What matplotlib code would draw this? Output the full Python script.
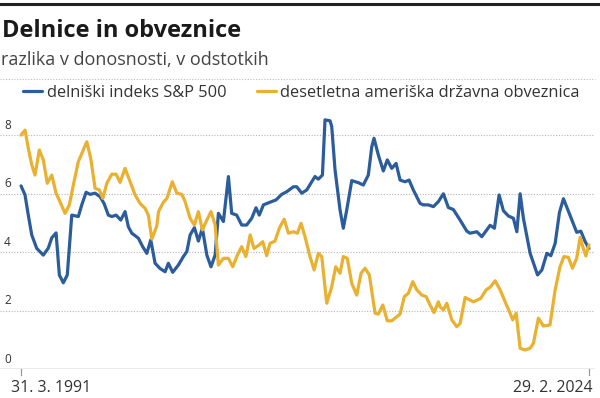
import matplotlib
matplotlib.use("Agg")
import matplotlib.pyplot as plt
from matplotlib.lines import Line2D

plt.rcParams['font.family'] = ['Open Sans', 'DejaVu Sans']

title = "Delnice in obveznice"
subtitle = "razlika v donosnosti, v odstotkih"
label_sp = "delniški indeks S&P 500"
label_bond = "desetletna ameriška državna obveznica"
x_tick_labels = ["31. 3. 1991", "29. 2. 2024"]
y_ticks = [0, 2, 4, 6, 8]

sp_years = [1991.25, 1991.48, 1991.67, 1991.87, 1992.16, 1992.54, 1992.83, 1993.03, 1993.28, 1993.47,
            1993.70, 1993.93, 1994.19, 1994.57, 1994.77, 1995.02, 1995.25, 1995.54, 1995.83, 1996.06,
            1996.31, 1996.51, 1996.76, 1997.03, 1997.28, 1997.47, 1997.67, 1998.05, 1998.30, 1998.54,
            1998.77, 1999.02, 1999.31, 1999.60, 1999.79, 2000.04, 2000.37, 2000.66, 2000.86, 2001.05,
            2001.30, 2001.53, 2001.76, 2002.02, 2002.26, 2002.50, 2002.69, 2002.98, 2003.27, 2003.46,
            2003.75, 2004.04, 2004.33, 2004.62, 2004.87, 2005.06, 2005.30, 2005.68, 2006.03, 2006.36,
            2006.65, 2007.04, 2007.23, 2007.52, 2007.81, 2008.10, 2008.29, 2008.48, 2008.72, 2008.87,
            2009.16, 2009.26, 2009.45, 2009.74, 2009.93, 2010.13, 2010.42, 2010.80, 2011.09, 2011.38,
            2011.58, 2011.71, 2011.96, 2012.25, 2012.48, 2012.74, 2012.99, 2013.22, 2013.51, 2013.74,
            2013.99, 2014.38, 2014.57, 2014.86, 2015.15, 2015.44, 2015.73, 2016.02, 2016.31, 2016.70,
            2017.09, 2017.28, 2017.67, 2017.96, 2018.44, 2018.69, 2018.96, 2019.21, 2019.50, 2019.79,
            2019.99, 2020.18, 2020.37, 2020.76, 2021.19, 2021.44, 2021.73, 2021.96, 2022.21, 2022.46,
            2022.69, 2022.98, 2023.46, 2023.70, 2023.95, 2024.17]
sp_values = [6.27, 5.96, 5.27, 4.59, 4.13, 3.90, 4.14, 4.49, 4.66, 3.22,
             2.95, 3.22, 5.27, 5.22, 5.62, 6.05, 5.98, 6.02, 5.90, 5.67,
             5.27, 5.22, 5.27, 5.10, 5.39, 4.87, 4.65, 4.48, 4.19, 3.96,
             4.42, 3.62, 3.44, 3.33, 3.62, 3.31, 3.56, 3.85, 4.02, 4.59,
             4.84, 4.38, 4.82, 3.90, 3.50, 3.90, 5.33, 5.05, 6.59, 5.33,
             5.27, 4.93, 4.93, 5.16, 5.52, 5.27, 5.62, 5.71, 5.79, 5.98,
             6.07, 6.24, 6.24, 6.02, 6.13, 6.41, 6.59, 6.50, 6.64, 8.53,
             8.50, 8.30, 6.82, 5.45, 4.82, 5.45, 6.45, 6.38, 6.30, 6.64,
             7.61, 7.90, 7.33, 6.78, 7.16, 6.87, 7.04, 6.47, 6.41, 6.47,
             6.13, 5.67, 5.62, 5.62, 5.56, 5.73, 6.00, 5.53, 5.46, 5.10,
             4.72, 4.65, 4.70, 4.53, 4.92, 4.82, 5.96, 5.42, 5.24, 5.16,
             4.70, 6.00, 5.16, 3.96, 3.22, 3.39, 3.96, 3.88, 4.30, 5.36,
             5.83, 5.40, 4.68, 4.72, 4.36, 4.13]

bond_years = [1991.25, 1991.48, 1991.67, 1991.87, 1992.06, 1992.31, 1992.54, 1992.77, 1993.03, 1993.28,
              1993.55, 1993.80, 1994.05, 1994.28, 1994.57, 1994.86, 1995.06, 1995.29, 1995.54, 1995.79,
              1995.99, 1996.22, 1996.51, 1996.76, 1996.99, 1997.28, 1997.57, 1997.86, 1998.15, 1998.44,
              1998.63, 1998.83, 1999.12, 1999.22, 1999.50, 1999.70, 2000.02, 2000.28, 2000.57, 2000.76,
              2001.05, 2001.30, 2001.53, 2001.76, 2002.02, 2002.26, 2002.50, 2002.69, 2002.98, 2003.27,
              2003.52, 2003.79, 2004.04, 2004.28, 2004.53, 2004.75, 2005.06, 2005.26, 2005.49, 2005.68,
              2005.97, 2006.22, 2006.50, 2006.75, 2007.04, 2007.27, 2007.48, 2007.71, 2008.00, 2008.24,
              2008.48, 2008.68, 2008.97, 2009.26, 2009.49, 2009.74, 2009.93, 2010.16, 2010.42, 2010.71,
              2010.96, 2011.19, 2011.44, 2011.77, 2011.96, 2012.22, 2012.48, 2012.74, 2012.93, 2013.22,
              2013.47, 2013.70, 2013.96, 2014.19, 2014.48, 2014.73, 2014.96, 2015.19, 2015.44, 2015.54,
              2015.73, 2015.93, 2016.22, 2016.51, 2016.70, 2016.99, 2017.47, 2017.90, 2018.21, 2018.44,
              2018.73, 2019.02, 2019.31, 2019.60, 2019.75, 2019.95, 2020.18, 2020.47, 2020.76, 2020.95,
              2021.24, 2021.53, 2021.91, 2022.21, 2022.49, 2022.72, 2022.98, 2023.21, 2023.46, 2023.66,
              2023.81, 2023.99, 2024.14, 2024.17]
bond_values = [8.01, 8.18, 7.56, 6.99, 6.64, 7.50, 7.16, 6.36, 6.64, 6.02,
               5.67, 5.33, 5.62, 6.30, 7.10, 7.50, 7.78, 7.21, 6.19, 6.13,
               5.84, 6.36, 6.67, 6.67, 6.39, 6.87, 6.41, 5.96, 5.67, 5.50,
               5.27, 4.45, 4.90, 5.39, 5.71, 5.84, 6.41, 6.02, 5.98, 5.73,
               5.16, 4.93, 5.39, 4.76, 5.10, 5.39, 4.93, 3.56, 3.79, 3.79,
               3.50, 3.90, 4.19, 3.85, 4.59, 4.13, 4.25, 4.36, 3.88, 4.30,
               4.38, 4.82, 5.13, 4.65, 4.70, 4.65, 4.99, 4.53, 3.85, 3.39,
               3.96, 3.85, 2.25, 2.82, 3.50, 3.28, 3.85, 3.79, 2.93, 2.53,
               3.28, 3.45, 3.22, 1.91, 1.88, 2.19, 1.65, 1.65, 1.74, 1.88,
               2.48, 2.59, 2.99, 2.71, 2.53, 2.48, 2.19, 1.93, 2.30, 2.13,
               2.02, 2.25, 1.68, 1.45, 1.56, 2.45, 2.30, 2.42, 2.71, 2.80,
               3.02, 2.71, 2.30, 1.91, 1.68, 1.91, 0.71, 0.65, 0.71, 0.88,
               1.74, 1.47, 1.51, 2.71, 3.50, 3.85, 3.82, 3.45, 3.79, 4.51,
               4.19, 3.87, 4.19, 4.25]

BLUE = "#2b5c9b"
YELLOW = "#e9b12f"
TEXT = "#333333"
GRID = "#b5b5b5"

fig = plt.figure(figsize=(6.0, 3.98), dpi=100)
W, H = 600, 398

# top rule
fig.add_artist(Line2D([0, 1], [1 - 4/H, 1 - 4/H], color="#222222", lw=2.2,
                      transform=fig.transFigure))
fig.text(2/W, 1 - 37/H, title, fontsize=17, fontweight="bold", color="#1a1a1a",
         ha="left", va="baseline")
fig.text(1/W, 1 - 65/H, subtitle, fontsize=13, color="#444444", ha="left", va="baseline")
fig.add_artist(Line2D([0, 595/W], [1 - 78.5/H, 1 - 78.5/H], color="#bbbbbb", lw=0.8,
                      ls=(0, (1, 1.5)), transform=fig.transFigure))

ax = fig.add_axes([0, 1 - 369/H, 595/W, (369 - 112)/H])
ax.set_xlim(1990.03, 2024.52)
ax.set_ylim(0, 8.8)
for s in ax.spines.values():
    s.set_visible(False)
ax.set_xticks([])
ax.set_yticks([])

for v in y_ticks:
    if v == 0:
        ax.axhline(0, color="#999999", lw=1.0, zorder=1)
    else:
        ax.axhline(v, color=GRID, lw=0.8, ls=(0, (1, 1.5)), zorder=1)
    ax.annotate(str(v), xy=(0, v), xycoords=("axes fraction", "data"),
                xytext=(3, 2.5), textcoords="offset points", fontsize=8.5,
                color=TEXT, ha="left", va="bottom")

l1, = ax.plot(sp_years, sp_values, color=BLUE, lw=2.3, solid_joinstyle="round",
              solid_capstyle="round", zorder=3, label=label_sp)
l2, = ax.plot(bond_years, bond_values, color=YELLOW, lw=2.3, solid_joinstyle="round",
              solid_capstyle="round", zorder=4, label=label_bond)

# x ticks at first and last dates
first, last = sp_years[0], sp_years[-1]
for xv in (first, last):
    ax.add_line(Line2D([xv, xv], [0, -0.2], color="#999999", lw=0.9, clip_on=False))
ax.annotate(x_tick_labels[0], xy=(first, 0), xycoords="data", xytext=(-7, -16.5),
            textcoords="offset points", fontsize=11.4, color=TEXT, ha="left", va="baseline")
ax.annotate(x_tick_labels[1], xy=(last, 0), xycoords="data", xytext=(2.5, -16.5),
            textcoords="offset points", fontsize=11.4, color=TEXT, ha="right", va="baseline")

fig.legend(handles=[l1, l2], loc="center left", bbox_to_anchor=(23/W, 1 - 93/H),
           ncol=2, frameon=False, fontsize=11.8, handlelength=1.16, handletextpad=0.3,
           columnspacing=1.83, borderaxespad=0, borderpad=0, labelcolor=TEXT)

fig.savefig("out.png", dpi=100)
